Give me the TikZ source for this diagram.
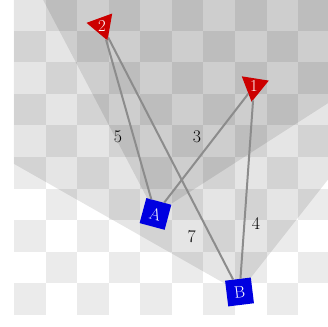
\documentclass[tikz,border=0pt]{standalone}
\usepackage{tikz}
\usetikzlibrary{shapes.geometric}
\definecolor{tilegray}{HTML}{EBEBEB}
\definecolor{markred}{HTML}{CC0000}
\definecolor{robotblue}{HTML}{0000E0}

\begin{document}
\begin{tikzpicture}[x=1cm,y=1cm]

\tikzset{
robot/.style={
fill=robotblue,
text=white,
minimum size=0.82cm,
inner sep=0pt,
font=\fontsize{15}{18}\selectfont
},
marker/.style={
regular polygon,
regular polygon sides=3,
fill=markred,
text=white,
minimum size=1.0cm,
inner sep=0pt,
font=\fontsize{15}{18}\selectfont
},
fov/.style={
fill=black,
fill opacity=0.1
},
link/.style={
draw=black!45,
line width=1.8pt
},
weight/.style={
font=\fontsize{16}{19}\selectfont
}
}

\useasboundingbox (-0.44,-0.35) rectangle (9.94,9.97);
\clip (-0.44,-0.35) rectangle (9.94,9.97);

%--------------------------------------------------
% BOARD
%--------------------------------------------------

\foreach \i in {0,...,9}{
  \foreach \j in {0,...,9}{
    \pgfmathparse{int(mod(\i+\j,2))}
    \ifnum\pgfmathresult=0
      \fill[tilegray] (\i,\j) rectangle ++(1,1);
    \fi
  }
}

%--------------------------------------------------
% FIELDS OF VIEW
%--------------------------------------------------

\coordinate (posA) at (4.48,3.20);
\coordinate (posB) at (7.14,0.73);

\begin{scope}
\clip (0,0) rectangle (10,10);
\fill[fov] (posB) -- +(150.4:20) -- +(51.8:20) -- cycle;
\fill[fov] (posA) -- +(117.7:20) -- +(32.7:20) -- cycle;
\end{scope}

%--------------------------------------------------
% ROBOTS AND MARKERS
%--------------------------------------------------

\node[robot,rotate=-15] (a) at (posA) {A};
\node[robot,rotate=7] (b) at (posB) {B};

\node[marker,shape border rotate=200] (m2) at (2.79,9.16) {2};
\node[marker,shape border rotate=171] (m1) at (7.60,7.24) {1};

%--------------------------------------------------
% LINKS
%--------------------------------------------------

\draw[link] (m2) -- (a);
\draw[link] (m2) -- (b);
\draw[link] (m1) -- (a);
\draw[link] (m1) -- (b);

\node[weight] (w5) at (3.29,5.63) {5};
\node[weight] (w3) at (5.79,5.63) {3};
\node[weight] (w7) at (5.63,2.47) {7};
\node[weight] (w4) at (7.66,2.88) {4};

\end{tikzpicture}
\end{document}
